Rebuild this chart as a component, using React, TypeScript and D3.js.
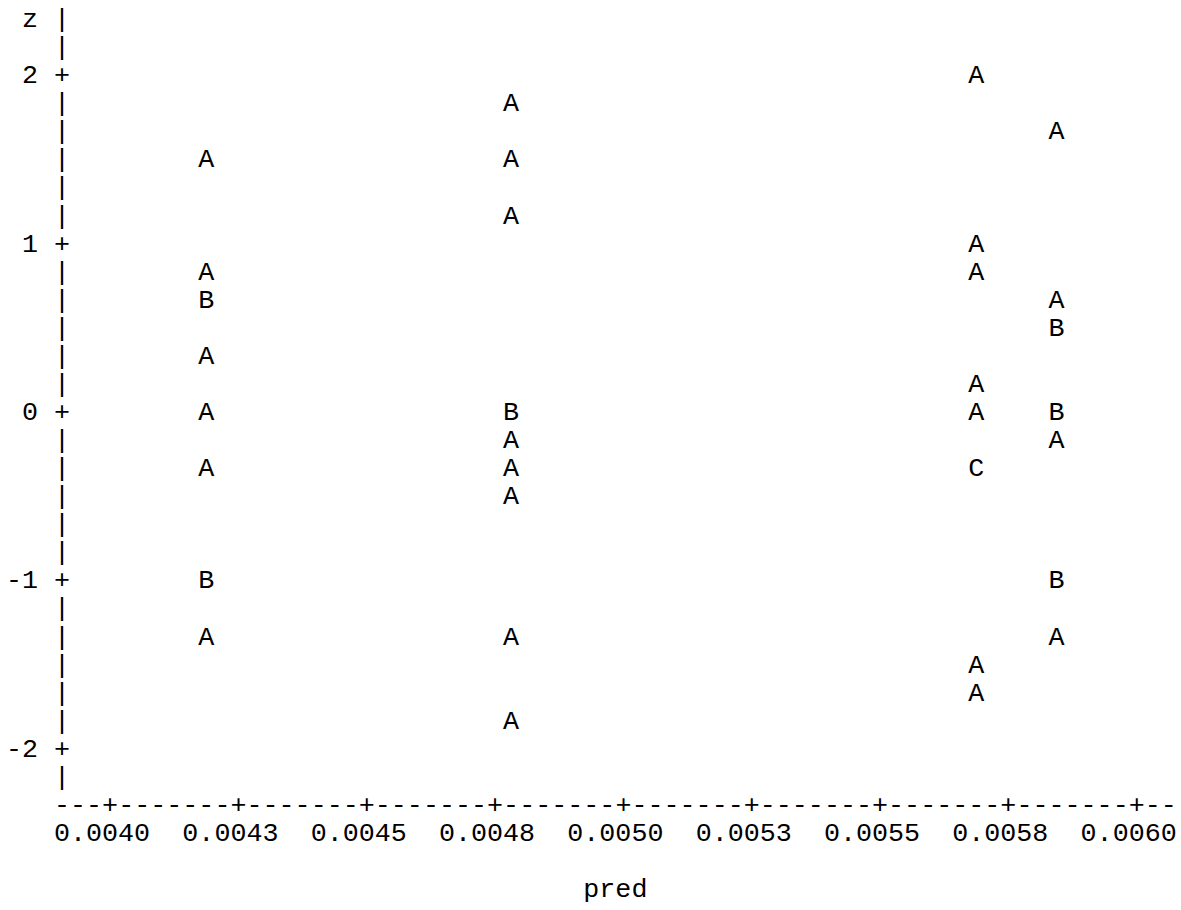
import React from "react";
import * as d3 from "d3";

// line-printer style plot of z against pred (A = 1 obs, B = 2 obs, ...)
const predTicks = [0.004, 0.00425, 0.0045, 0.00475, 0.005, 0.00525, 0.0055, 0.00575, 0.006];
const predTickLabels = ["0.0040", "0.0043", "0.0045", "0.0048", "0.0050", "0.0053", "0.0055", "0.0058", "0.0060"];
const zTicks = [2, 1, 0, -1, -2];
const zTickLabels = ["2", "1", "0", "-1", "-2"];

const pointPred = [
  0.00419, 0.00419, 0.00419, 0.00419, 0.00419, 0.00419, 0.00419, 0.00419,
  0.00478, 0.00478, 0.00478, 0.00478, 0.00478, 0.00478, 0.00478, 0.00478, 0.00478,
  0.00569, 0.00569, 0.00569, 0.00569, 0.00569, 0.00569, 0.00569, 0.00569,
  0.00584, 0.00584, 0.00584, 0.00584, 0.00584, 0.00584, 0.00584,
];
const pointZ = [
  1.5, 0.833, 0.667, 0.333, 0, -0.333, -1, -1.333,
  1.833, 1.5, 1.167, 0, -0.167, -0.333, -0.5, -1.333, -1.833,
  2, 1, 0.833, 0.167, 0, -0.333, -1.5, -1.667,
  1.667, 0.667, 0.5, 0, -0.167, -1, -1.333,
];
const pointCount = [
  1, 1, 2, 1, 1, 1, 2, 1,
  1, 1, 1, 2, 1, 1, 1, 1, 1,
  1, 1, 1, 1, 1, 3, 1, 1,
  1, 1, 2, 2, 1, 2, 1,
];

const cw = 16.04; // character cell width
const rh = 28.07; // line height
const x0 = 62; // column of the vertical axis
const y0 = 19; // first line (z label)
const font = "'Liberation Mono', 'Courier New', monospace";
const fs = 26.7;

const App = () => {
  const x = d3.scaleLinear().domain([0.004, 0.006]).range([x0 + 3 * cw, x0 + 67 * cw]);
  const y = d3.scaleLinear().domain([-2, 2]).range([y0 + 26 * rh, y0 + 2 * rh]);

  const toCol = (v: number) => Math.round((x(v) - x0) / cw);
  const toRow = (v: number) => Math.round((y(v) - y0) / rh);
  const colX = (c: number) => x0 + c * cw;
  const rowY = (r: number) => y0 + r * rh;

  const tickRows = zTicks.map(toRow);
  const tickCols = predTicks.map(toCol);
  const axisRow = 28;
  const lastCol = 69;

  const vert = d3.range(0, axisRow).map((r) => ({ r, ch: tickRows.includes(r) ? "+" : "|" }));
  const horiz = d3.range(0, lastCol + 1).map((c) => ({ c, ch: tickCols.includes(c) ? "+" : "-" }));

  const textProps = { fontFamily: font, fontSize: fs, fill: "#000", dy: "0.3em" };

  return (
    <svg width={1181} height={910} style={{ position: "absolute", left: 0, top: 0, background: "#fff" }}>
      {/* y label */}
      <text x={colX(-2)} y={rowY(0)} textAnchor="middle" {...textProps}>z</text>
      {/* vertical axis */}
      {vert.map((d) => (
        <text key={"v" + d.r} x={colX(0)} y={rowY(d.r)} textAnchor="middle" {...textProps}>{d.ch}</text>
      ))}
      {zTicks.map((t, i) => (
        <text key={"yl" + i} x={colX(-2) + cw / 2} y={y(t)} textAnchor="end" {...textProps}>{zTickLabels[i]}</text>
      ))}
      {/* horizontal axis */}
      {horiz.map((d) => (
        <text key={"h" + d.c} x={colX(d.c)} y={rowY(axisRow)} textAnchor="middle" {...textProps}>{d.ch}</text>
      ))}
      {predTicks.map((t, i) => (
        <text key={"xl" + i} x={x(t) - cw / 2} y={rowY(axisRow + 1)} textAnchor="middle" {...textProps}>{predTickLabels[i]}</text>
      ))}
      <text x={colX(lastCol / 2)} y={rowY(axisRow + 3)} textAnchor="middle" {...textProps}>pred</text>
      {/* plotted symbols */}
      {pointPred.map((p, i) => (
        <text key={"p" + i} x={colX(toCol(p))} y={rowY(toRow(pointZ[i]))} textAnchor="middle" {...textProps}>
          {String.fromCharCode(64 + pointCount[i])}
        </text>
      ))}
    </svg>
  );
};

export default App;
